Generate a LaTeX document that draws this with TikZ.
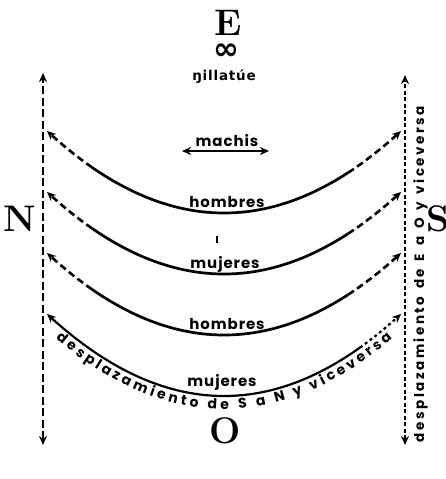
\documentclass[tikz,border=0pt]{standalone}
\usepackage{fontspec}
\setsansfont{Poppins}
\newfontfamily\dvsans{DejaVu Sans}[LetterSpace=6]
\newfontfamily\lblf{Poppins}[LetterSpace=6]
\usetikzlibrary{arrows.meta,decorations.text}
\begin{document}
\begin{tikzpicture}[x=1pt,y=-1pt,
  lbl/.style={font=\lblf\bfseries\fontsize{15}{15}\selectfont, inner sep=0pt},
  big/.style={font=\bfseries\fontsize{37}{37}\selectfont, inner sep=0pt},
  solidarc/.style={line width=2.7pt},
  dasharc/.style={line width=2.6pt, dash pattern=on 7pt off 4pt},
  dotarc/.style={line width=2.2pt, dash pattern=on 3pt off 3pt},
  vlineA/.style={line width=2.4pt, dash pattern=on 8pt off 3.5pt},
  vlineB/.style={line width=2.2pt, dash pattern=on 4pt off 2.5pt},
  tip/.style={-{Stealth[length=9pt,width=8pt]}},
  tips/.style={{Stealth[length=9pt,width=8pt]}-{Stealth[length=9pt,width=8pt]}}
]
\useasboundingbox (0,0) rectangle (446,479);

% cardinal letters
\node[big] (E) at (228,23) {E};
\node[big] (N) at (20,219) {N};
\node[big] (S) at (438,219) {S};
\node[big] (O) at (225,431) {O};
\node[inner sep=0pt, font=\dvsans\bfseries\fontsize{31}{31}\selectfont] (inf) at (226,52) {∞};
\node[inner sep=0pt, font=\dvsans\bfseries\fontsize{13.5}{13.5}\selectfont] (ngi) at (224,77) {ŋillatúe};

% vertical lines
\coordinate (LT) at (43,73);
\coordinate (LB) at (43,445);
\coordinate (RT) at (405,75);
\coordinate (RB) at (405,445);
\draw[vlineA, tips] (LB) -- (LT);
\draw[vlineB, tips] (RB) -- (RT);

% machis
\node[lbl] (machis) at (227,141) {machis};
\coordinate (mL) at (182,151);
\coordinate (mR) at (269,151);
\draw[line width=1.8pt, tips] (mL) -- (mR);

% arcs 1-3
\foreach \yl in {130,191,252} {
  \draw[solidarc] plot[domain=92:348, samples=50, smooth] (\x,{\yl+83*(1-((\x-224)/178)^2)});
  \draw[dasharc, tip] plot[domain=92:47, samples=12, smooth] (\x,{\yl+83*(1-((\x-224)/178)^2)});
  \draw[dasharc, tip] plot[domain=348:401, samples=12, smooth] (\x,{\yl+83*(1-((\x-224)/178)^2)});
}
% arc 4
\draw[line width=2.2pt, tip] plot[domain=360:47, samples=60, smooth] (\x,{313+83*(1-((\x-224)/178)^2)});
\draw[dotarc, tip] plot[domain=360:401, samples=12, smooth] (\x,{313+83*(1-((\x-224)/178)^2)});

% labels on arcs
\node[lbl, anchor=base] (h1) at (227,207) {hombres};
\node[lbl, anchor=base] (m1) at (225,268) {mujeres};
\node[lbl, anchor=base] (h2) at (227,329) {hombres};
\node[lbl, anchor=base] (m2) at (222,386) {mujeres};

% small tick
\draw[line width=2pt] (217,236) -- (217,243);

% curved text
\coordinate (cA) at (64,328.9);
\coordinate (cB) at (384,328.9);
\path[decorate, decoration={text along path, raise=-13pt, text align=fit to path,
  text={|\sffamily\bfseries\fontsize{14}{14}\selectfont|desplazamiento de S a N y viceversa}}]
  (cA) .. controls (170.67,418.4) and (277.33,418.4) .. (cB);

% vertical text
\coordinate (vtB) at (424,442);
\coordinate (vtT) at (424,106);
\path[decorate, decoration={text along path, text align=fit to path,
  text={|\sffamily\bfseries\fontsize{13.5}{13.5}\selectfont|desplazamiento de E a O y viceversa}}]
  (vtB) -- (vtT);
\end{tikzpicture}
\end{document}
